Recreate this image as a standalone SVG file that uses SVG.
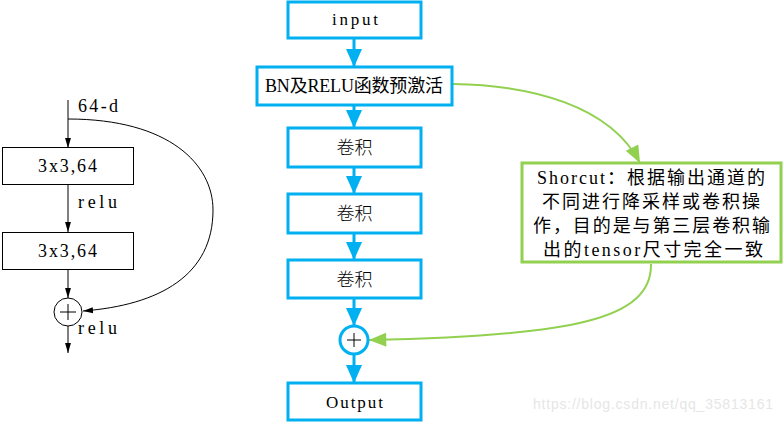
<svg xmlns="http://www.w3.org/2000/svg" width="783" height="422" viewBox="0 0 783 422">
<style>
.bk{fill:none;stroke:#000;stroke-width:1}
.kbox{fill:#fff;stroke:#000;stroke-width:1}
.bbox{fill:#fff;stroke:#00B0F0;stroke-width:3}
.gbox{fill:#fff;stroke:#92D050;stroke-width:3}
.bl{fill:none;stroke:#00B0F0;stroke-width:3}
.gl{fill:none;stroke:#92D050;stroke-width:2}
.t{font-family:"Liberation Serif","Noto Sans CJK SC",serif;font-weight:400;fill:#000}
.c{font-family:"Noto Sans CJK SC","Liberation Serif",sans-serif;font-weight:300;fill:#000}
</style>
<defs>
<marker id="ak" markerWidth="10" markerHeight="17" refX="17" refY="5" viewBox="0 0 17 10" markerUnits="userSpaceOnUse" orient="auto"><path d="M0,0 L17,5 L0,10 Z" fill="#000"/></marker>
<marker id="ab" markerWidth="18" markerHeight="18" refX="18" refY="8" viewBox="0 0 18 16" markerUnits="userSpaceOnUse" orient="auto"><path d="M0,0 L18,8 L0,16 Z" fill="#00B0F0"/></marker>
<marker id="ag" markerWidth="18" markerHeight="14" refX="16" refY="6.5" viewBox="0 0 16 13" markerUnits="userSpaceOnUse" orient="auto"><path d="M0,0 L16,6.5 L0,13 Z" fill="#92D050"/></marker>
</defs>
<rect width="783" height="422" fill="#fff"/>
<g id="connectors">
<line class="bk" x1="68" y1="100" x2="68" y2="148" marker-end="url(#ak)"/>
<line class="bk" x1="68" y1="185" x2="68" y2="232" marker-end="url(#ak)"/>
<line class="bk" x1="68" y1="270" x2="68" y2="298" marker-end="url(#ak)"/>
<line class="bk" x1="68" y1="326" x2="68" y2="353" marker-end="url(#ak)"/>
<path class="bk" d="M68,119 C170,119 213,165 213,210 C213,275 160,305 83,311" marker-end="url(#ak)"/>
<line class="bl" x1="354" y1="38" x2="354" y2="67" marker-end="url(#ab)"/>
<line class="bl" x1="354" y1="106" x2="354" y2="128" marker-end="url(#ab)"/>
<line class="bl" x1="354" y1="167" x2="354" y2="194" marker-end="url(#ab)"/>
<line class="bl" x1="354" y1="233" x2="354" y2="260" marker-end="url(#ab)"/>
<line class="bl" x1="354" y1="298" x2="354" y2="326" marker-end="url(#ab)"/>
<line class="bl" x1="354" y1="354" x2="354" y2="383" marker-end="url(#ab)"/>
<path class="gl" d="M453,84 C530,85 610,105 640,163" marker-end="url(#ag)"/>
<path class="gl" d="M651,264 C652,320 570,336 369,340" marker-end="url(#ag)"/>
</g>
<g id="left-in"><text class="t" x="78" y="112" font-size="18" textLength="40" lengthAdjust="spacing">64-d</text></g>
<g id="left-conv1"><rect class="kbox" x="2.5" y="147.5" width="131" height="37"/><text class="t" x="38" y="172" font-size="18" textLength="59" lengthAdjust="spacing">3x3,64</text></g>
<g id="left-relu1"><text class="t" x="78" y="208" font-size="18" textLength="39" lengthAdjust="spacing">relu</text></g>
<g id="left-conv2"><rect class="kbox" x="2.5" y="232.5" width="131" height="37"/><text class="t" x="38" y="257" font-size="18" textLength="59" lengthAdjust="spacing">3x3,64</text></g>
<g id="left-add"><circle class="kbox" cx="68" cy="312" r="14"/><path class="bk" d="M60,312 H76 M68,304 V320"/></g>
<g id="left-relu2"><text class="t" x="78" y="334" font-size="18" textLength="39" lengthAdjust="spacing">relu</text></g>
<g id="input"><rect class="bbox" x="288" y="2" width="133" height="36"/><text class="t" x="332" y="25" font-size="17" textLength="46" lengthAdjust="spacing">input</text></g>
<g id="bn"><rect class="bbox" x="257" y="67" width="195" height="38"/><text class="t" x="265" y="92" font-size="18" textLength="178" lengthAdjust="spacing">BN及RELU函数预激活</text></g>
<g id="conv1"><rect class="bbox" x="288" y="128" width="133" height="39"/><text class="c" x="354.5" y="154" font-size="18" text-anchor="middle">卷积</text></g>
<g id="conv2"><rect class="bbox" x="288" y="194" width="133" height="39"/><text class="c" x="354.5" y="220" font-size="18" text-anchor="middle">卷积</text></g>
<g id="conv3"><rect class="bbox" x="288" y="260" width="133" height="38"/><text class="c" x="354.5" y="286" font-size="18" text-anchor="middle">卷积</text></g>
<g id="add"><circle cx="354" cy="340" r="14" fill="#fff" stroke="#00B0F0" stroke-width="3"/><path class="bk" d="M347,340 H361 M354,333 V347"/></g>
<g id="output"><rect class="bbox" x="288" y="383" width="133" height="37"/><text class="t" x="326" y="408" font-size="17" textLength="57" lengthAdjust="spacing">Output</text></g>
<g id="shortcut"><rect class="gbox" x="522" y="163" width="259" height="99"/>
<text class="t" font-size="18"><tspan x="537" y="184" textLength="228" lengthAdjust="spacing">Shorcut：根据输出通道的</tspan><tspan x="542" y="208" textLength="218" lengthAdjust="spacing">不同进行降采样或卷积操</tspan><tspan x="533" y="232" textLength="237" lengthAdjust="spacing">作，目的是与第三层卷积输</tspan><tspan x="543" y="256" textLength="220" lengthAdjust="spacing">出的tensor尺寸完全一致</tspan></text></g>
<text x="533" y="409" font-family="Liberation Sans,sans-serif" font-size="14" fill="#e6e6e6" textLength="240" lengthAdjust="spacing">https://blog.csdn.net/qq_35813161</text>
</svg>
